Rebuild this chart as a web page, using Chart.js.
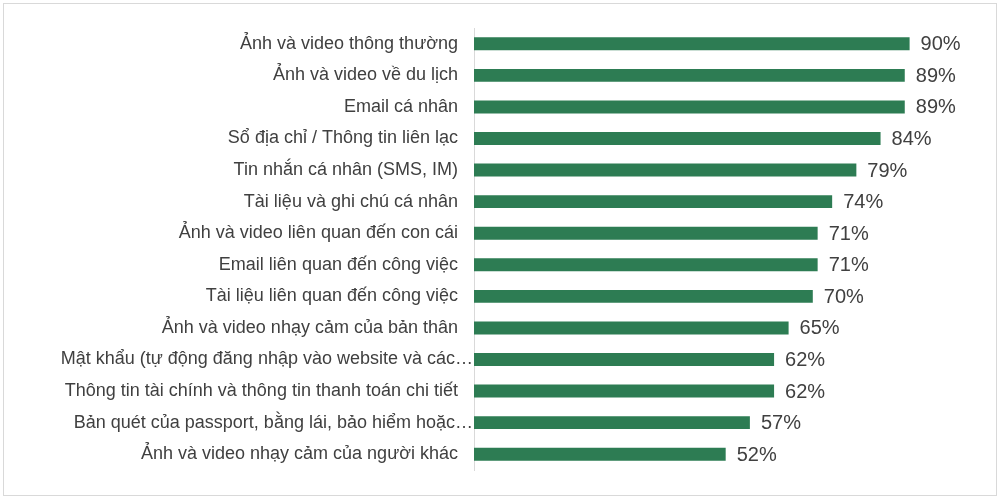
<!DOCTYPE html>
<html>
<head>
<meta charset="utf-8">
<script src="https://cdn.jsdelivr.net/npm/chart.js@4"></script>
<style>
  html, body { margin: 0; padding: 0; background: #fff; }
  #wrap { position: relative; width: 1000px; height: 501px; }
</style>
</head>
<body>
<div id="wrap"><canvas id="chart"></canvas></div>
<script>
const categories = [
  "Ảnh và video thông thường",
  "Ảnh và video về du lịch",
  "Email cá nhân",
  "Sổ địa chỉ / Thông tin liên lạc",
  "Tin nhắn cá nhân (SMS, IM)",
  "Tài liệu và ghi chú cá nhân",
  "Ảnh và video liên quan đến con cái",
  "Email liên quan đến công việc",
  "Tài liệu liên quan đến công việc",
  "Ảnh và video nhạy cảm của bản thân",
  "Mật khẩu (tự động đăng nhập vào website và các…",
  "Thông tin tài chính và thông tin thanh toán chi tiết",
  "Bản quét của passport, bằng lái, bảo hiểm hoặc…",
  "Ảnh và video nhạy cảm của người khác"
];
const shares = [90, 89, 89, 84, 79, 74, 71, 71, 70, 65, 62, 62, 57, 52];

const GREEN = "#2d7c53";
const TEXT = "#404040";
const FONT = "'Liberation Sans', Arial, sans-serif";

// frame around the whole picture
const frame = {
  id: "frame",
  beforeDraw(chart) {
    const c = chart.ctx;
    c.save();
    c.strokeStyle = "#d9d9d9";
    c.lineWidth = 1;
    c.strokeRect(3.5, 3.5, 993, 492);
    c.restore();
  }
};

// category labels: cut-off ones run right up to the axis, like Excel does
const catLabels = {
  id: "catLabels",
  afterDraw(chart) {
    const c = chart.ctx;
    const y = chart.scales.y;
    c.save();
    c.font = "18px " + FONT;
    c.fillStyle = TEXT;
    c.textAlign = "right";
    c.textBaseline = "middle";
    categories.forEach((lab, i) => {
      const x = lab.endsWith("…") ? y.right - 1 : y.right - 16;
      c.fillText(lab, x, y.getPixelForTick(i));
    });
    c.restore();
  }
};

// percentage next to each bar
const valueLabels = {
  id: "valueLabels",
  afterDatasetsDraw(chart) {
    const c = chart.ctx;
    const meta = chart.getDatasetMeta(0);
    c.save();
    c.font = "20px " + FONT;
    c.fillStyle = TEXT;
    c.textAlign = "left";
    c.textBaseline = "middle";
    meta.data.forEach((bar, i) => {
      c.fillText(shares[i] + "%", bar.x + 11, bar.y + 1);
    });
    c.restore();
  }
};

new Chart(document.getElementById("chart"), {
  type: "bar",
  data: {
    labels: categories,
    datasets: [{
      data: shares,
      backgroundColor: GREEN,
      borderWidth: 0,
      categoryPercentage: 1,
      barPercentage: 0.41
    }]
  },
  options: {
    indexAxis: "y",
    responsive: true,
    maintainAspectRatio: false,
    animation: false,
    layout: { padding: { left: 0, right: 42, top: 28, bottom: 31 } },
    plugins: { legend: { display: false }, tooltip: { enabled: false } },
    scales: {
      x: { display: false, min: 0, max: 100 },
      y: {
        afterFit(scale) { scale.width = 474; },
        grid: { display: false, drawTicks: false },
        border: { display: true, color: "#d9d9d9", width: 1 },
        ticks: { display: false }
      }
    }
  },
  plugins: [frame, catLabels, valueLabels]
});
</script>
</body>
</html>
